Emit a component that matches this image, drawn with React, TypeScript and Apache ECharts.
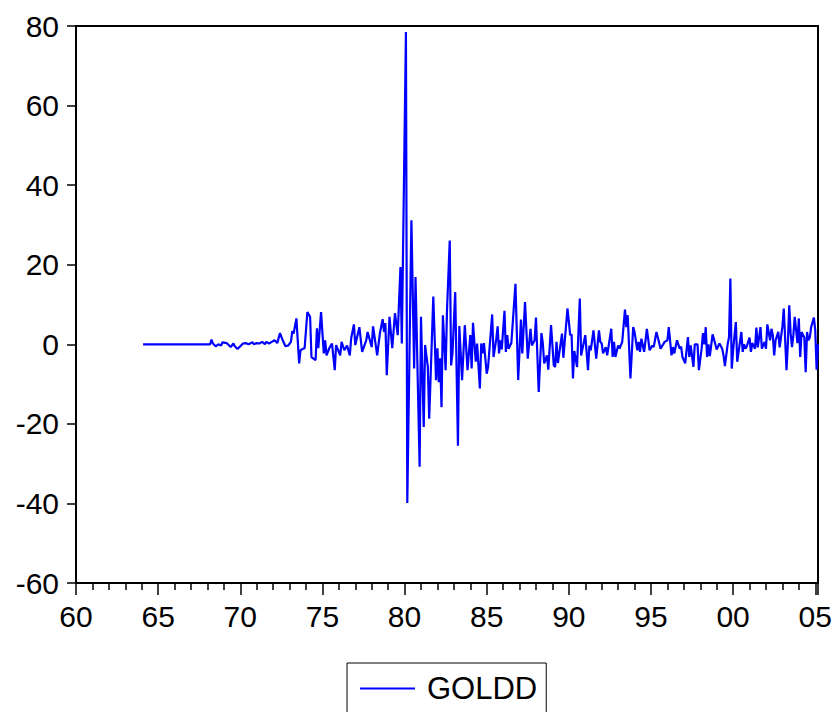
import React, { useEffect, useRef } from "react";
import * as echarts from "echarts";

const seriesName = "GOLDD";

const obsDates = [
  "1964-02", "1968-03", "1968-04", "1968-05", "1968-07", "1968-09", "1968-11", "1968-12",
  "1969-03", "1969-04", "1969-06", "1969-08", "1969-09", "1969-11",
  "1970-01", "1970-03", "1970-05", "1970-07", "1970-10", "1970-11",
  "1971-01", "1971-03", "1971-05", "1971-07", "1971-08", "1971-10", "1971-12",
  "1972-02", "1972-04", "1972-06", "1972-08", "1972-10", "1972-12",
  "1973-02", "1973-03", "1973-04", "1973-06", "1973-08", "1973-09", "1973-11", "1973-12",
  "1974-02", "1974-04", "1974-05", "1974-08", "1974-09", "1974-10", "1974-12",
  "1975-02", "1975-03", "1975-04", "1975-06", "1975-08", "1975-10", "1975-11",
  "1976-02", "1976-03", "1976-05", "1976-07", "1976-09", "1976-10", "1976-12",
  "1977-01", "1977-04", "1977-06", "1977-09", "1977-10",
  "1978-01", "1978-02", "1978-05", "1978-07", "1978-09", "1978-10", "1978-11", "1978-12",
  "1979-02", "1979-04", "1979-06", "1979-08", "1979-10", "1979-11",
  "1980-02", "1980-03", "1980-06", "1980-08", "1980-09", "1980-12",
  "1981-01", "1981-03", "1981-04", "1981-06", "1981-07", "1981-10", "1981-12",
  "1982-01", "1982-02", "1982-03", "1982-04", "1982-05", "1982-07", "1982-08", "1982-10", "1982-11", "1982-12",
  "1983-02", "1983-04", "1983-05", "1983-07", "1983-09", "1983-11",
  "1984-01", "1984-02", "1984-03", "1984-05", "1984-06", "1984-08", "1984-09", "1984-10", "1984-11",
  "1985-01", "1985-02", "1985-05", "1985-06", "1985-08", "1985-09", "1985-10", "1985-11", "1985-12",
  "1986-02", "1986-03", "1986-04", "1986-05", "1986-07", "1986-10", "1986-12",
  "1987-02", "1987-03", "1987-05", "1987-07", "1987-09", "1987-10", "1987-12",
  "1988-01", "1988-03", "1988-05", "1988-06", "1988-07", "1988-09", "1988-10", "1988-12",
  "1989-02", "1989-03", "1989-04", "1989-05", "1989-08", "1989-09", "1989-12",
  "1990-02", "1990-03", "1990-04", "1990-05", "1990-07", "1990-09", "1990-10", "1990-12",
  "1991-01", "1991-03", "1991-04", "1991-05", "1991-07", "1991-09", "1991-11", "1991-12",
  "1992-01", "1992-02", "1992-04", "1992-05", "1992-08", "1992-09", "1992-10", "1992-11",
  "1993-01", "1993-02", "1993-04", "1993-06", "1993-07", "1993-08", "1993-10", "1993-12",
  "1994-01", "1994-03", "1994-04", "1994-05", "1994-06", "1994-08", "1994-10", "1994-12",
  "1995-02", "1995-03", "1995-05", "1995-07", "1995-08", "1995-11",
  "1996-01", "1996-02", "1996-04", "1996-05", "1996-06", "1996-08", "1996-10", "1996-11", "1996-12",
  "1997-02", "1997-04", "1997-05", "1997-06", "1997-08", "1997-09", "1997-11", "1997-12",
  "1998-02", "1998-03", "1998-04", "1998-05", "1998-06", "1998-07", "1998-08", "1998-10", "1998-12",
  "1999-01", "1999-03", "1999-05", "1999-06", "1999-07", "1999-09", "1999-10", "1999-11", "1999-12",
  "2000-01", "2000-03", "2000-04", "2000-05", "2000-07", "2000-08", "2000-09", "2000-10", "2000-11",
  "2001-01", "2001-02", "2001-03", "2001-05", "2001-06", "2001-07", "2001-09", "2001-10", "2001-12",
  "2002-01", "2002-02", "2002-04", "2002-05", "2002-06", "2002-07", "2002-08", "2002-10", "2002-11",
  "2003-01", "2003-02", "2003-04", "2003-05", "2003-06", "2003-07", "2003-08", "2003-09", "2003-10", "2003-12",
  "2004-01", "2004-02", "2004-03", "2004-05", "2004-06", "2004-07", "2004-08", "2004-09", "2004-10", "2004-12",
  "2005-01", "2005-02", "2005-03",
];

const goldd = [
  0, 0, 1.2, 0.2, -0.5, 0, -0.3, 0.5,
  0.3, 0, -0.7, 0.2, -0.5, -1.2,
  -0.5, 0.2, 0.3, 0, 0.5, 0,
  0.3, 0.2, 0.6, 0, 0.6, 0.2, 0.6,
  1, 0.3, 2.8, 1, -0.5, -0.3,
  0.6, 3.3, 2.7, 6.5, -4.8, -1.5, -1.1, -1.0,
  8.1, 6.9, -3.2, -4, 4, -1, 8.1,
  -2.3, 1, -2.8, -1, 0.2, -6.5, -0.2,
  -2.8, 0.6, -1.5, -0.3, -2.8, 1.5, 5,
  -0.2, 4.3, -1.9, 1, 3.1,
  -0.7, 4.5, -2.8, 2.8, 6.3, 3.1, 5.3, -7.8,
  6.9, -1, 7.8, 2.3, 19.4, 0.2,
  78.5, -39.9, 31.2, -6.1, 16.9, -30.8,
  6.9, -20.8, -0.2, -5.7, -18.7, 12, -9,
  -1, -9.5, -3.5, -15.8, 7.3, -6.5, 8.5, 26.1, -5.3, -2.3,
  13.1, -25.5, 4.6, -9, 4.8, -6.5,
  2.3, -6.1, 5.4, -4.4, 0.2, -11.1, 0.2, -2.3, 0.3,
  -7.4, -5.7, 7.5, -3.2, 1.4, 4.5, -2.3, 1, -1.3,
  8.4, -1.9, 2.3, -1.1, 0.3, 15.2, -9,
  6.2, -2.3, 10.6, -3.6, 3.9, -0.3, 1,
  6.7, -12, 2.8, 0.2, -4.8, -2.8, -6.4, 4.8,
  -5.3, -5.7, 0.6, -4.7, 2.7, -3.4, 9,
  2.3, 2.5, -8.6, -1.7, -5.7, 11.5, -2.8, 0.6,
  2.3, -6.5, -0.3, -1.5, 3.5, -3.6, 3.5, 0.6,
  0.2, -2.3, -0.7, -2.8, 3.9, -3.2, 0.6, -3.2,
  -0.3, -1.1, 0.6, 8.7, 4.3, 7.3, -8.6, 4.3,
  3.1, -1.5, 0.6, -1.9, 1.4, -1.9, 3.9, -1.5,
  -0.3, -0.7, 3.1, 0.3, -1.1, 0.6,
  1, 4.3, -2.8, -0.7, -2.3, 1, -1.1, -0.6, -3.2,
  -4.8, 1.8, -3.2, -0.3, -5.7, 0, 0, -6.5,
  -1.1, 2.8, 0, 4.3, -3.2, 0, -3, 2.5, 0,
  -1.3, 0.2, -1.1, -2.8, -5.5, 0, 1.8, 16.5, -6.1,
  -1.5, 5.6, -4.4, -1.9, 3.1, -1.9, 0, -1.1, -0.5,
  1.7, -1.9, 0.3, -1.1, 4.2, -0.8, 4.3, -1.1, 0.6,
  -1.1, 5, 1, 3.9, 2.3, -2.8, 1, 3.1, -0.8,
  4.5, 9, -6.5, 0.3, 9.8, 2.8, -0.7, 2.3, 6.9, 0.3,
  6.5, -3.2, 3.1, 1.7, -7, 3.1, 1, 1.7, 4.3, 6.7,
  3.5, -6.4, 0,
];

const yTicks = [-60, -40, -20, 0, 20, 40, 60, 80];
const xTickYears = [1960, 1965, 1970, 1975, 1980, 1985, 1990, 1995, 2000, 2005];

const FONT = 'Arial, "Liberation Sans", Helvetica, sans-serif';

const toYear = (s: string) => {
  const [y, m] = s.split("-").map(Number);
  return y + (m - 1) / 12;
};

export default function App() {
  const ref = useRef<HTMLDivElement>(null);
  useEffect(() => {
    if (!ref.current) return;
    const chart = echarts.init(ref.current, null, { renderer: "svg" });
    const data = obsDates.map((d, i) => [toYear(d), goldd[i]]);
    const xMax = toYear(obsDates[obsDates.length - 1]);
    chart.setOption({
      animation: false,
      backgroundColor: "#fff",
      grid: {
        left: 76,
        right: 19,
        top: 26,
        bottom: 129,
        show: true,
        borderColor: "#000",
        borderWidth: 2,
        backgroundColor: "transparent",
      },
      legend: {
        show: true,
        left: 347,
        top: 663,
        orient: "horizontal",
        borderColor: "#000",
        borderWidth: 1,
        padding: [10, 9, 10, 13],
        itemWidth: 55,
        itemHeight: 2,
        data: [{ name: seriesName, icon: "rect" }],
        textStyle: {
          fontFamily: FONT,
          fontSize: 31,
          color: "#000",
          padding: [0, 0, 0, 7],
          lineHeight: 30,
        },
      },
      xAxis: {
        type: "value",
        min: 1960,
        max: xMax,
        interval: 5,
        axisLine: { show: true, onZero: false, lineStyle: { color: "#000", width: 2 } },
        axisTick: { show: true, inside: false, length: 12, lineStyle: { color: "#000", width: 1.5 } },
        minorTick: { show: true, splitNumber: 5, length: 7, lineStyle: { color: "#000", width: 1.5 } },
        splitLine: { show: false },
        axisLabel: {
          showMaxLabel: false,
          margin: 18,
          fontFamily: FONT,
          fontSize: 30,
          color: "#000",
          formatter: (v: number) => {
            const r = Math.round(v);
            if (Math.abs(v - r) > 1e-6 || !xTickYears.includes(r)) return "";
            return String(r % 100).padStart(2, "0");
          },
        },
      },
      yAxis: {
        type: "value",
        min: yTicks[0],
        max: yTicks[yTicks.length - 1],
        interval: 20,
        axisLine: { show: true, onZero: false, lineStyle: { color: "#000", width: 2 } },
        axisTick: { show: true, inside: false, length: 9, lineStyle: { color: "#000", width: 1.5 } },
        splitLine: { show: false },
        axisLabel: {
          margin: 17,
          fontFamily: FONT,
          fontSize: 30,
          color: "#000",
          verticalAlign: "middle",
          lineHeight: 30,
          padding: [0, 0, 12, 0],
          formatter: (v: number) => String(v),
        },
      },
      series: [
        {
          name: seriesName,
          type: "line",
          data,
          symbol: "none",
          showSymbol: false,
          color: "#0000FF",
          lineStyle: { color: "#0000FF", width: 2.2 },
          itemStyle: { color: "#0000FF" },
        },
      ],
    });
    return () => chart.dispose();
  }, []);
  return (
    <div
      ref={ref}
      style={{ position: "absolute", left: 0, top: 0, width: 837, height: 712, background: "#fff" }}
    />
  );
}
